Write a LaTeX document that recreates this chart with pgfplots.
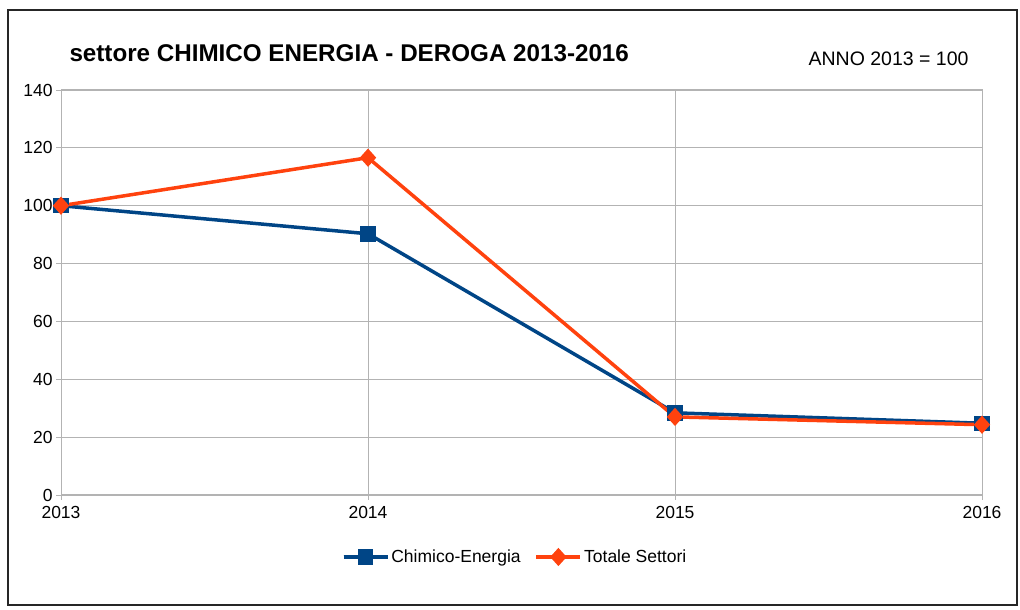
\documentclass[border=0pt]{standalone}
\usepackage{fontspec}
\setmainfont{Liberation Sans}
\usepackage{pgfplots}
\pgfplotsset{compat=1.18}
\definecolor{chimblue}{HTML}{004586}
\definecolor{totorange}{HTML}{FF420E}
\definecolor{gridgray}{HTML}{B3B3B3}

\begin{document}
\begin{tikzpicture}
\path (0,0) rectangle (1020bp,610bp);
\draw[black!85, line width=2bp] (8bp,5bp) rectangle (1017bp,600bp);
\node[anchor=west, font=\fontsize{24.2bp}{27bp}\selectfont\bfseries] at (66bp,557bp) {settore CHIMICO ENERGIA - DEROGA 2013-2016};
\node[anchor=east, font=\fontsize{19.5bp}{22bp}\selectfont] at (972bp,551bp) {ANNO 2013 = 100};
\begin{axis}[
  at={(61bp,115bp)}, anchor=south west,
  scale only axis, width=921bp, height=405bp,
  xmin=2013, xmax=2016, ymin=0, ymax=140,
  xtick={2013,2014,2015,2016},
  xticklabels={2013,2014,2015,2016},
  ytick={0,20,...,140},
  /pgf/number format/assume math mode=true,
  ticklabel style={font=\fontsize{17.5bp}{20bp}\selectfont},
  xtick pos=bottom, ytick pos=left,
  tick align=outside, major tick length=5bp,
  tick style={gridgray, line width=0.8bp},
  grid=major, grid style={gridgray, line width=0.8bp},
  axis line style={gridgray, line width=1bp},
  xticklabel style={yshift=-3bp},
  legend columns=2,
  legend style={at={(0.493,-0.153)}, anchor=center, draw=none,
    font=\fontsize{17.5bp}{20bp}\selectfont,
    /tikz/every even column/.append style={column sep=12bp}},
  legend image code/.code={
    \draw[#1] (0bp,0bp) -- (22bp,0bp) -- (44bp,0bp);
    \draw[#1, mark repeat=2, mark phase=2] plot coordinates {(0bp,0bp) (22bp,0bp) (44bp,0bp)};
  },
]
\addplot[chimblue, line width=3.5bp, mark=square*, mark size=6bp, mark options={solid}]
  coordinates {(2013,100) (2014,90.3) (2015,28.4) (2016,24.8)};
\addlegendentry{Chimico-Energia}
\addplot[totorange, line width=3.5bp, mark=diamond*, mark size=6.5bp, mark options={solid, xscale=1.2}]
  coordinates {(2013,100) (2014,116.6) (2015,27.0) (2016,24.3)};
\addlegendentry{Totale Settori}
\end{axis}
\end{tikzpicture}
\end{document}
